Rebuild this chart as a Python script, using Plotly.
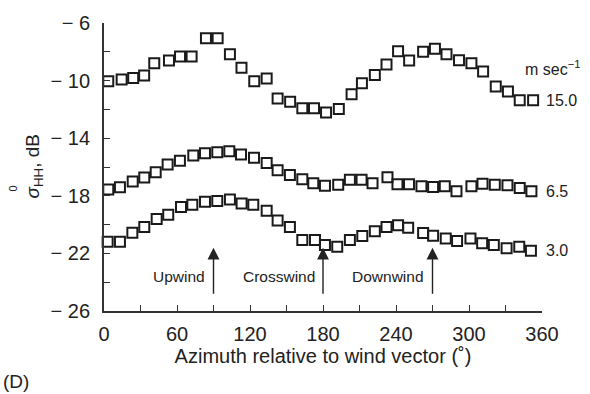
import plotly.graph_objects as go

# Azimuth (deg) and sigma0_HH (dB) for each wind speed
az_15 = [3.5, 14.5, 24, 33, 41.3, 53.4, 62.5, 72, 83.8, 93.4, 103.5, 113, 123.5, 133.7,
         142.7, 153, 163, 172.6, 182.5, 193, 203.5, 212, 222.6, 232.2, 241.7, 250.8,
         262.3, 272, 281.5, 291.8, 302, 311.6, 322, 332, 341.7, 352.7]
sig_15 = [-10.05, -9.93, -9.82, -9.64, -8.80, -8.60, -8.33, -8.33, -7.06, -7.06, -8.17,
          -9.10, -10.05, -9.86, -11.24, -11.47, -11.92, -11.92, -12.22, -11.97, -10.95,
          -10.18, -9.61, -8.89, -7.97, -8.60, -7.99, -7.78, -8.17, -8.58, -8.80, -9.37,
          -10.41, -10.75, -11.36, -11.36]

az_65 = [3.5, 13.1, 23.6, 33.1, 42.5, 52.3, 62.4, 73.4, 83, 93.1, 103, 112.6, 123.3, 133.7,
         142.7, 152.8, 163, 172, 181.6, 192.5, 202.1, 211.7, 220.7, 233, 241.2, 250.7,
         260.9, 270.5, 280.1, 289.7, 302, 311.1, 321.2, 331.6, 341.7, 351.3]
sig_65 = [-17.57, -17.41, -17.00, -16.73, -16.37, -15.83, -15.56, -15.20, -15.04, -14.97,
          -14.90, -15.13, -15.36, -15.72, -16.22, -16.56, -16.85, -17.12, -17.30, -17.23,
          -16.89, -16.89, -17.12, -16.71, -17.19, -17.19, -17.34, -17.39, -17.34, -17.68,
          -17.34, -17.17, -17.23, -17.27, -17.46, -17.68]

az_30 = [3, 13.1, 23.3, 33.1, 43.3, 52.8, 63.3, 72.6, 83, 93.1, 103.5, 113.1, 122.7, 133.7,
         142.7, 152.8, 163, 173.4, 181.6, 191.7, 202.1, 212.3, 222.6, 232.2, 241.7, 250,
         262.3, 270.5, 280.9, 290.2, 301.2, 310.8, 320.4, 330.9, 341.3, 350.9]
sig_30 = [-21.19, -21.19, -20.56, -20.17, -19.61, -19.31, -18.77, -18.63, -18.41, -18.36,
          -18.25, -18.54, -18.63, -19.04, -19.72, -20.17, -21.07, -21.07, -21.41, -21.53,
          -21.07, -20.80, -20.46, -20.17, -20.05, -20.22, -20.58, -20.78, -20.96, -21.14,
          -20.96, -21.30, -21.41, -21.64, -21.53, -21.82]

speed_labels = ["15.0", "6.5", "3.0"]
x_ticks = [0, 60, 120, 180, 240, 300, 360]
y_ticks = [-26, -22, -18, -14, -10, -6]
y_tick_text = ["\u2212 26", "\u2212 22", "\u2212 18", "\u2212 14", "\u2212 10", "\u2212 6"]

# Wind direction markers: (label, azimuth)
directions = [("Upwind", 90), ("Crosswind", 180), ("Downwind", 270)]

FONT = "Liberation Sans, Arial, sans-serif"
INK = "#222222"

fig = go.Figure()
for az, sig in [(az_15, sig_15), (az_65, sig_65), (az_30, sig_30)]:
    fig.add_trace(go.Scatter(
        x=az, y=sig, mode="markers", cliponaxis=False, showlegend=False,
        marker=dict(symbol="square-open", size=10, color="#1a1a1a",
                    line=dict(width=2, color="#1a1a1a")),
    ))

# Speed labels at the right end of each series
for lab, sig in zip(speed_labels, [sig_15, sig_65, sig_30]):
    fig.add_annotation(x=1.005, y=sig[-1], xref="paper", yref="y", text=lab,
                       showarrow=False, xanchor="left", yanchor="middle",
                       font=dict(size=16, color=INK, family=FONT))
fig.add_annotation(x=1.025, y=-9.15, xref="paper", yref="y", text="m sec<sup>\u22121</sup>",
                   showarrow=False, xanchor="center", yanchor="middle",
                   font=dict(size=16, color=INK, family=FONT))

# Arrows and direction labels
for lab, az in directions:
    fig.add_annotation(x=az, y=-21.6, ax=az, ay=-24.9, xref="x", yref="y",
                       axref="x", ayref="y", text="", showarrow=True,
                       arrowhead=2, arrowsize=1.7, arrowwidth=1.4, arrowcolor=INK)
    fig.add_annotation(x=az - 5, y=-23.6, xref="x", yref="y", text=lab,
                       showarrow=False, xanchor="right", yanchor="middle",
                       font=dict(size=15.5, color=INK, family=FONT))

# Y-axis title with stacked super/subscript
fig.add_annotation(x=-0.16, y=0.505, xref="paper", yref="paper",
                   text="<i>\u03c3</i><sub>HH</sub>, dB", textangle=-90,
                   showarrow=False, xanchor="center", yanchor="middle",
                   font=dict(size=19, color=INK, family=FONT))
fig.add_annotation(x=-0.208, y=0.425, xref="paper", yref="paper",
                   text="0", textangle=-90,
                   showarrow=False, xanchor="center", yanchor="middle",
                   font=dict(size=11, color=INK, family=FONT))

fig.add_annotation(x=-0.2, y=-0.245, xref="paper", yref="paper", text="(D)",
                   showarrow=False, xanchor="center", yanchor="middle",
                   font=dict(size=19, color=INK, family=FONT))

axis_common = dict(showline=True, linecolor="#333333", linewidth=2, showgrid=False,
                   zeroline=False, ticks="inside", ticklen=6, tickwidth=1.3,
                   tickcolor="#333333", tickfont=dict(size=20, color=INK, family=FONT))

fig.update_xaxes(range=[0, 360], tickvals=x_ticks, ticklabelstandoff=4,
                 minor=dict(ticks="inside", dtick=30, ticklen=6, tickwidth=1.3,
                            tickcolor="#333333"),
                 title=dict(text="Azimuth relative to wind vector (\u02da)",
                            font=dict(size=20, color=INK, family=FONT), standoff=4),
                 **axis_common)
fig.update_yaxes(range=[-26, -6], tickvals=y_ticks, ticktext=y_tick_text,
                 ticklabelstandoff=8,
                 minor=dict(ticks="inside", dtick=2, ticklen=6, tickwidth=1.3,
                            tickcolor="#333333"),
                 **axis_common)

fig.update_layout(width=590, height=394, margin=dict(l=104, r=48, t=16, b=83),
                  plot_bgcolor="white", paper_bgcolor="white",
                  font=dict(family=FONT, color=INK))

fig.write_html("out.html")
